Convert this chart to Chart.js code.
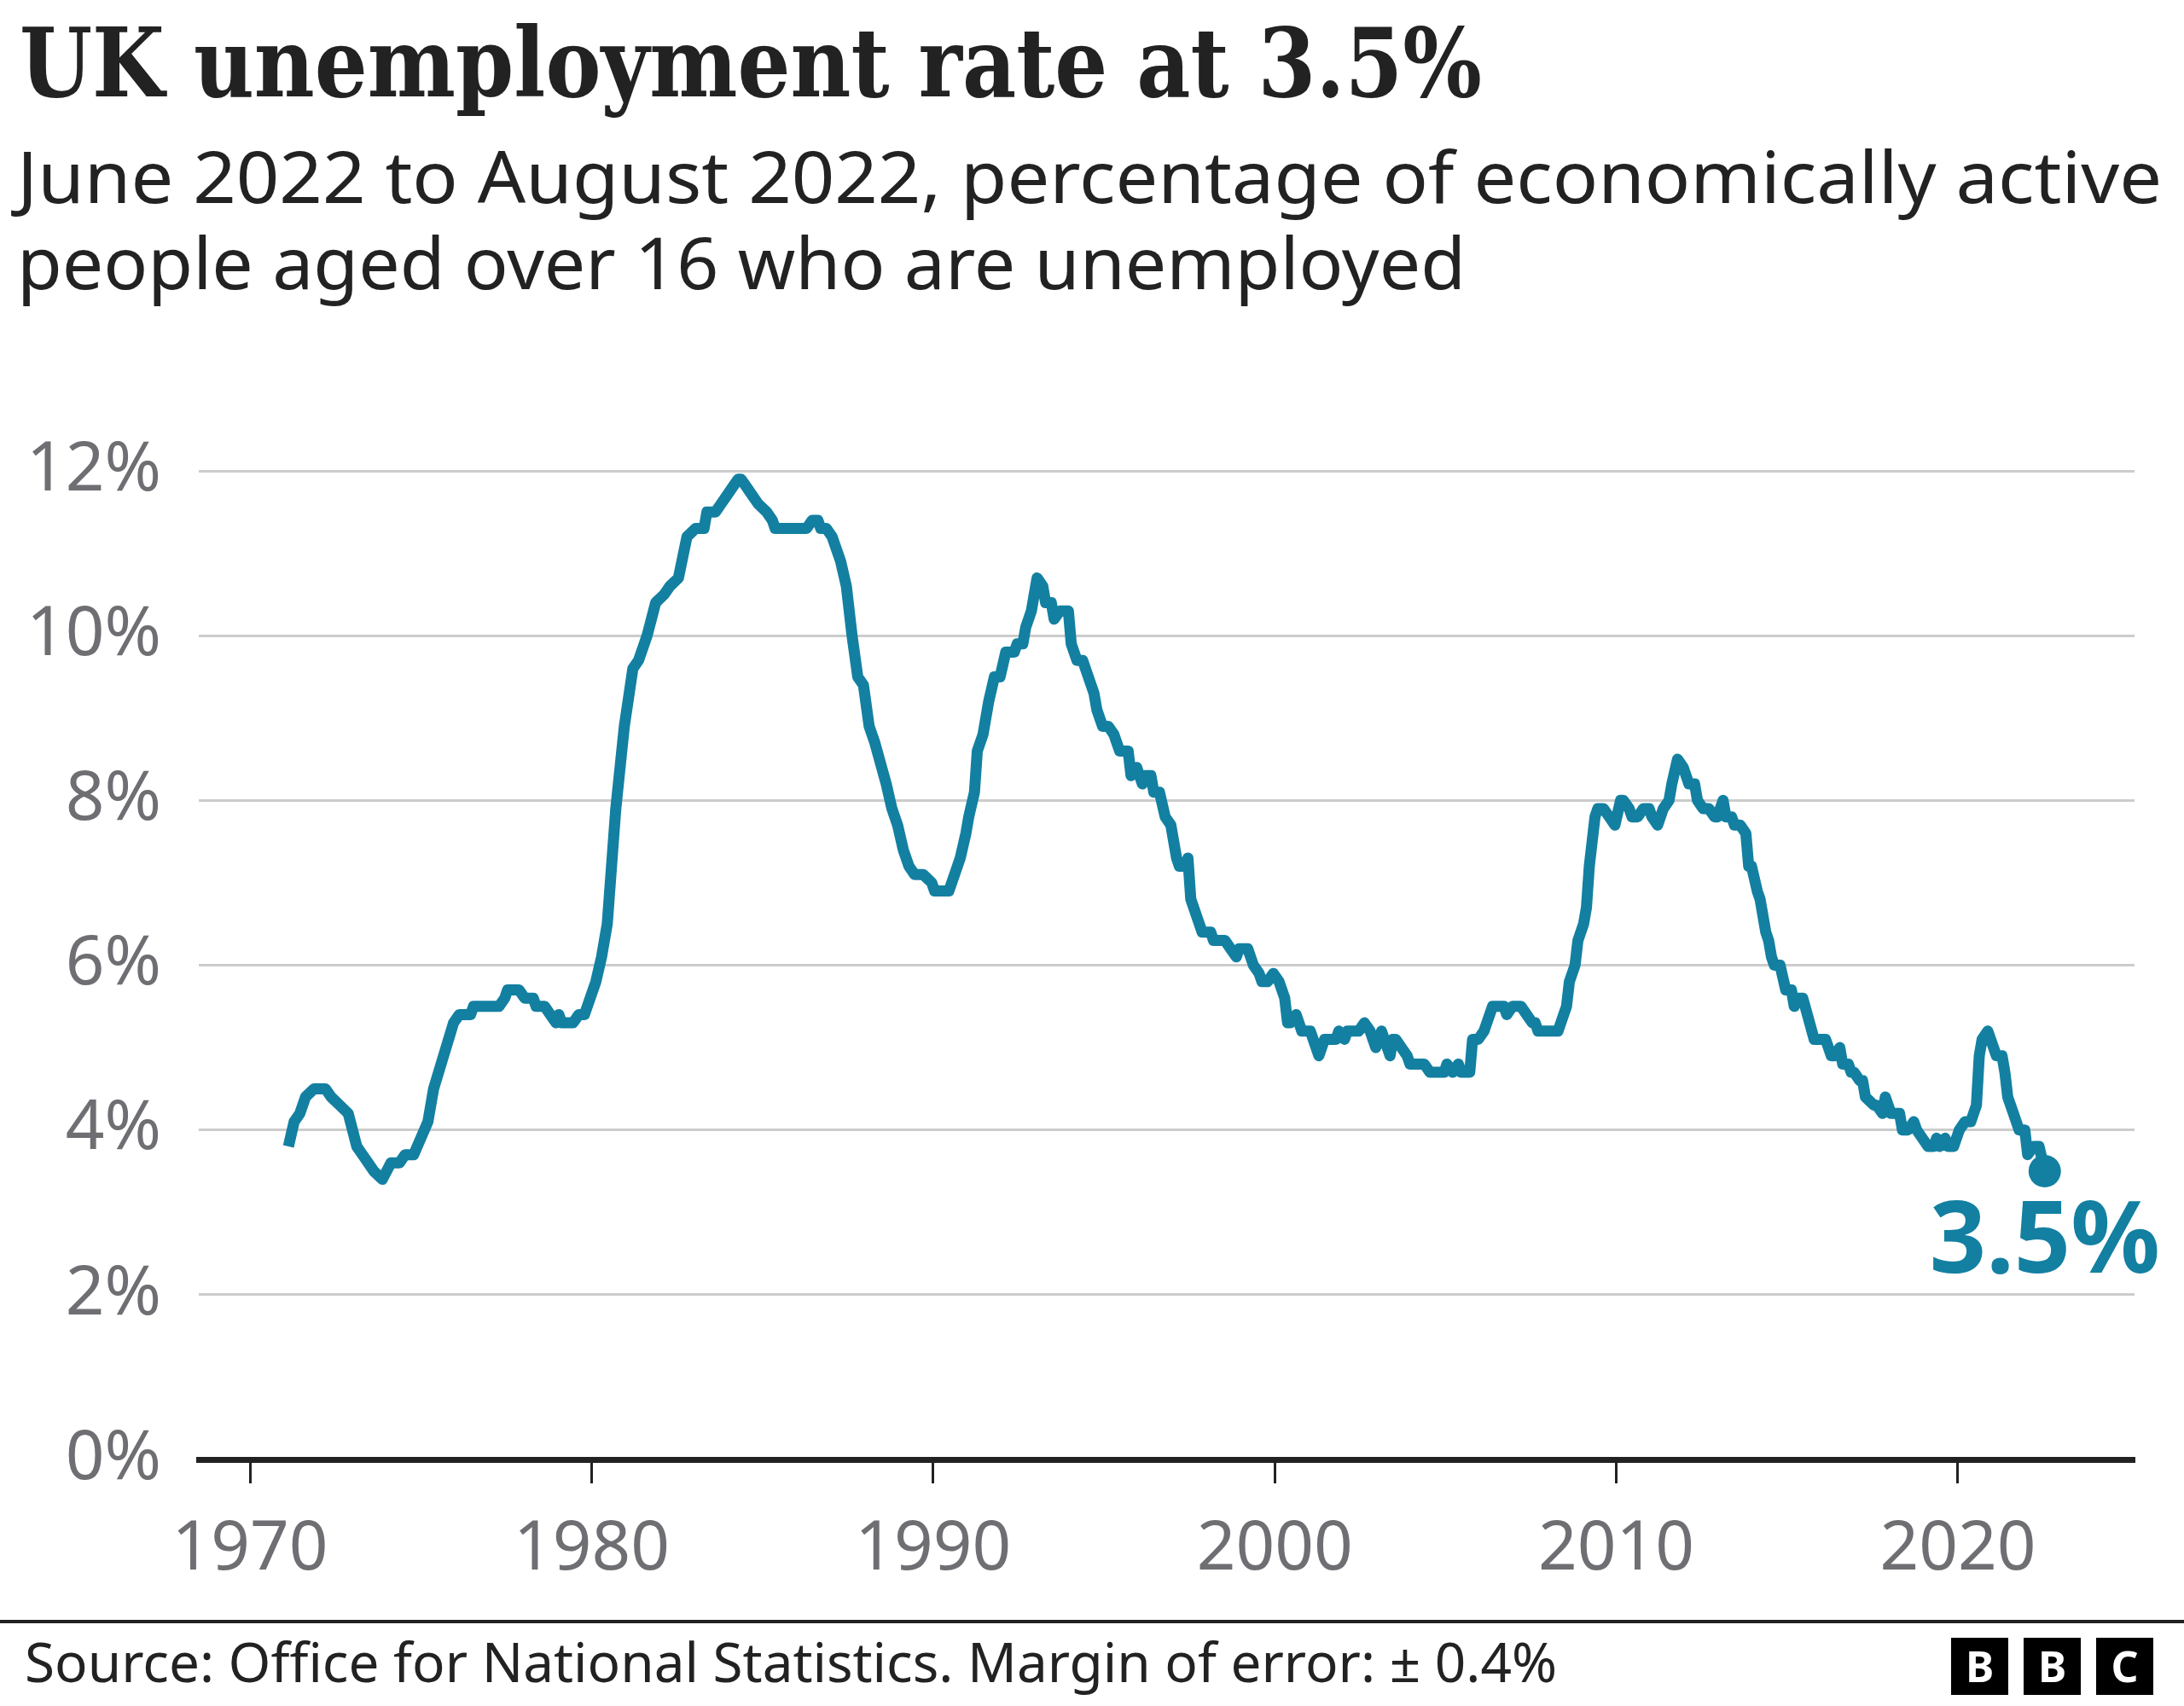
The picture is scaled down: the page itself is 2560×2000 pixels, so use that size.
<!DOCTYPE html>
<html>
<head>
<meta charset="utf-8">
<script src="https://cdn.jsdelivr.net/npm/chart.js@4/dist/chart.umd.min.js"></script>
<style>
  html, body { margin: 0; padding: 0; background: #ffffff; }
  body { width: 2560px; height: 2000px; position: relative; overflow: hidden; font-family: "Noto Sans", sans-serif; }
  .txt { position: absolute; white-space: nowrap; line-height: 1; transform-origin: left top; }
  #title { left: 23px; top: 18px; font-family: "DejaVu Serif", serif; font-weight: bold; font-size: 112px; color: #222222; }
  #sub1 { left: 20px; top: 164px; font-size: 84px; color: #222222; }
  #sub2 { left: 20px; top: 265px; font-size: 84px; color: #222222; }
  #chartWrap { position: absolute; left: 0; top: 460px; width: 2560px; height: 1420px; }
  #rule { position: absolute; left: 0; top: 1899px; width: 2560px; height: 4px; background: #222222; }
  #source { left: 29px; top: 1916px; font-size: 64px; color: #222222; }
  .blk { position: absolute; top: 1920px; width: 67px; height: 67px; background: #000; color: #fff;
         font-family: "Noto Sans", sans-serif; font-weight: bold; font-size: 50px; line-height: 67px; text-align: center; }
</style>
</head>
<body>
<div id="title" class="txt">UK unemployment rate at 3.5%</div>
<div id="sub1" class="txt">June 2022 to August 2022, percentage of economically active</div>
<div id="sub2" class="txt">people aged over 16 who are unemployed</div>
<div id="chartWrap"><canvas id="c" width="2560" height="1420"></canvas></div>
<div id="rule"></div>
<div id="source" class="txt">Source: Office for National Statistics. Margin of error: ± 0.4%</div>
<div class="blk" style="left:2287px">B</div>
<div class="blk" style="left:2372px">B</div>
<div class="blk" style="left:2457px">C</div>
<script>
// Mid-month of each rolling three-month period (YYYY-MM)
const dates = [
 "1971-02","1971-04","1971-06","1971-08","1971-11","1972-03","1972-05","1972-08","1972-11",
 "1973-02","1973-04","1973-06","1973-08","1973-11","1974-02","1974-05","1974-07","1974-10",
 "1975-03","1975-05","1975-12","1976-02","1976-06","1976-07","1977-04","1977-06","1977-07","1977-11",
 "1978-01","1978-04","1978-05","1978-08","1978-10","1978-12","1979-01","1979-02","1979-06","1979-08","1979-10",
 "1980-02","1980-04","1980-06","1980-09","1980-12","1981-03","1981-05","1981-08","1981-11",
 "1982-02","1982-04","1982-07","1982-10","1983-01","1983-04","1983-05","1983-08","1983-10","1983-12",
 "1984-02","1984-04","1984-05","1984-07","1984-09","1984-11","1985-02","1985-04","1985-05",
 "1986-04","1986-06","1986-08","1986-09","1986-11","1987-01","1987-04","1987-06","1987-08","1987-10","1987-12",
 "1988-02","1988-04","1988-08","1988-10","1988-12","1989-02","1989-04","1989-06","1989-09","1989-12",
 "1990-01","1990-06","1990-08","1990-10","1990-12","1991-01","1991-03","1991-04","1991-06","1991-08","1991-10","1991-12",
 "1992-02","1992-05","1992-06","1992-08","1992-09","1992-11","1992-12","1993-01","1993-03","1993-04","1993-06","1993-07","1993-09","1993-12",
 "1994-01","1994-03","1994-05","1994-09","1994-10","1994-12","1995-02","1995-04","1995-06","1995-09","1995-10","1995-12",
 "1996-02","1996-03","1996-05","1996-06","1996-08","1996-10","1996-12","1997-02","1997-03","1997-05","1997-06","1997-07","1997-11",
 "1998-02","1998-03","1998-07","1998-09","1998-11","1998-12","1999-03","1999-05","1999-07","1999-08","1999-10","1999-12",
 "2000-02","2000-04","2000-05","2000-06","2000-08","2000-10","2001-01","2001-04","2001-06","2001-10","2001-11",
 "2002-01","2002-02","2002-06","2002-08","2002-10","2002-12","2003-02","2003-05","2003-06","2003-07","2003-09","2003-11","2003-12",
 "2004-05","2004-07","2004-12","2005-01","2005-03","2005-05","2005-06","2005-09","2005-10","2005-12",
 "2006-02","2006-03","2006-05","2006-09","2006-10","2006-12","2007-03","2007-05","2007-07","2007-08","2007-09",
 "2008-04","2008-06","2008-07","2008-08","2008-10","2008-11","2009-01","2009-02","2009-03","2009-05","2009-06","2009-08","2009-10","2009-12",
 "2010-02","2010-03","2010-05","2010-06","2010-08","2010-10","2010-12","2011-01","2011-03","2011-05","2011-07","2011-08","2011-10","2011-12",
 "2012-02","2012-04","2012-05","2012-07","2012-09","2012-11","2012-12","2013-02","2013-03","2013-05","2013-06","2013-08","2013-10","2013-11","2013-12",
 "2014-02","2014-03","2014-05","2014-06","2014-07","2014-08","2014-10","2014-12","2015-02","2015-03","2015-04","2015-06","2015-10",
 "2016-02","2016-04","2016-05","2016-07","2016-08","2016-10","2016-11","2016-12","2017-02","2017-03","2017-04","2017-07","2017-08","2017-10","2017-11",
 "2018-01","2018-04","2018-05","2018-07","2018-09","2018-10","2018-12","2019-02","2019-04","2019-05","2019-06","2019-08","2019-09","2019-11",
 "2020-01","2020-03","2020-05","2020-07","2020-08","2020-09","2020-11","2020-12","2021-02","2021-04","2021-05","2021-06","2021-07","2021-10","2021-12",
 "2022-01","2022-03","2022-05","2022-07"
];
const rates = [
 3.8,4.1,4.2,4.4,4.5,4.5,4.4,4.3,4.2,
 3.8,3.7,3.6,3.5,3.4,3.6,3.6,3.7,3.7,
 4.1,4.5,5.3,5.4,5.4,5.5,5.5,5.6,5.7,5.7,
 5.6,5.6,5.5,5.5,5.4,5.3,5.4,5.3,5.3,5.4,5.4,
 5.8,6.1,6.5,7.9,8.9,9.6,9.7,10.0,10.4,
 10.5,10.6,10.7,11.2,11.3,11.3,11.5,11.5,11.6,11.7,
 11.8,11.9,11.9,11.8,11.7,11.6,11.5,11.4,11.3,
 11.3,11.4,11.4,11.3,11.3,11.2,10.9,10.6,10.0,9.5,9.4,
 8.9,8.7,8.2,7.9,7.7,7.4,7.2,7.1,7.1,7.0,
 6.9,6.9,7.1,7.3,7.6,7.8,8.1,8.6,8.8,9.2,9.5,9.5,
 9.8,9.8,9.9,9.9,10.1,10.3,10.5,10.7,10.6,10.4,10.4,10.2,10.3,10.3,
 9.9,9.7,9.7,9.3,9.1,8.9,8.9,8.8,8.6,8.6,8.3,8.4,
 8.2,8.3,8.3,8.1,8.1,7.8,7.7,7.3,7.2,7.2,7.3,6.8,6.4,
 6.4,6.3,6.3,6.2,6.1,6.2,6.2,6.0,5.9,5.8,5.8,5.9,
 5.8,5.6,5.3,5.3,5.4,5.2,5.2,4.9,5.1,5.1,5.2,
 5.1,5.2,5.2,5.3,5.2,5.0,5.2,4.9,5.1,5.1,5.0,4.9,4.8,
 4.8,4.7,4.7,4.8,4.7,4.8,4.7,4.7,5.1,5.1,
 5.2,5.3,5.5,5.5,5.4,5.5,5.5,5.4,5.3,5.3,5.2,
 5.2,5.4,5.5,5.8,6.0,6.3,6.5,6.7,7.2,7.8,7.9,7.9,7.8,7.7,
 8.0,8.0,7.9,7.8,7.8,7.9,7.9,7.8,7.7,7.9,8.0,8.2,8.5,8.4,
 8.2,8.2,8.0,7.9,7.9,7.8,7.8,8.0,7.8,7.8,7.7,7.7,7.6,7.2,7.2,
 6.9,6.8,6.4,6.3,6.1,6.0,6.0,5.7,5.7,5.5,5.6,5.6,5.1,
 5.1,4.9,4.9,5.0,4.8,4.8,4.7,4.7,4.6,4.6,4.4,4.3,4.3,4.2,4.4,
 4.2,4.2,4.0,4.0,4.1,4.0,3.9,3.8,3.8,3.9,3.8,3.9,3.8,3.8,
 4.0,4.1,4.1,4.3,4.9,5.1,5.2,5.1,4.9,4.9,4.7,4.4,4.3,4.0,4.0,
 3.7,3.8,3.8,3.5
];
const xTickYears = [1970, 1980, 1990, 2000, 2010, 2020];
const yTickValues = [0, 2, 4, 6, 8, 10, 12];

const LINE_COLOR = "#1380A1";
const LABEL_COLOR = "#6e6e73";

function toDecimalYear(s) {
  const parts = s.split("-").map(Number);
  return parts[0] + (parts[1] - 0.5) / 12;
}
const points = dates.map((d, i) => ({ x: toDecimalYear(d), y: rates[i] }));
const lastIndex = points.length - 1;
const latestLabel = rates[lastIndex].toFixed(1) + "%";

const latestPlugin = {
  id: "latestLabel",
  afterDatasetsDraw(chart) {
    const meta = chart.getDatasetMeta(0);
    const p = meta.data[lastIndex];
    const c = chart.ctx;
    c.save();
    c.font = 'bold 116px "Noto Sans"';
    c.fillStyle = LINE_COLOR;
    c.textAlign = "right";
    c.textBaseline = "alphabetic";
    c.fillText(latestLabel, p.x + 135, p.y + 119);
    c.restore();
  }
};

function fitWidth(id, target) {
  const el = document.getElementById(id);
  const w = el.getBoundingClientRect().width;
  el.style.transform = "scaleX(" + (target / w) + ")";
}

function draw() {
  fitWidth("title", 1714);
  fitWidth("sub1", 2514);
  fitWidth("sub2", 1698);
  fitWidth("source", 1796);

  new Chart(document.getElementById("c"), {
    type: "line",
    data: {
      datasets: [{
        data: points,
        borderColor: LINE_COLOR,
        backgroundColor: LINE_COLOR,
        borderWidth: 13,
        borderJoinStyle: "round",
        borderCapStyle: "butt",
        tension: 0,
        pointRadius: ctx => (ctx.dataIndex === lastIndex ? 19 : 0),
        pointHoverRadius: ctx => (ctx.dataIndex === lastIndex ? 19 : 0),
        pointBackgroundColor: LINE_COLOR,
        pointBorderWidth: 0,
        clip: false
      }]
    },
    options: {
      responsive: false,
      animation: false,
      devicePixelRatio: 1,
      events: [],
      layout: { padding: { top: 82, right: 58, left: 0, bottom: 0 } },
      plugins: { legend: { display: false }, tooltip: { enabled: false } },
      scales: {
        x: {
          type: "linear",
          min: 1968.5,
          max: 2025.17,
          afterBuildTicks: axis => { axis.ticks = xTickYears.map(v => ({ value: v })); },
          afterFit: axis => { axis.height = 169; },
          grid: { drawOnChartArea: false, drawTicks: true, tickLength: 28, tickWidth: 3, tickColor: "#222222", color: "#222222" },
          border: { display: true, color: "#222222", width: 7 },
          ticks: {
            autoSkip: false, maxRotation: 0, padding: 30,
            color: LABEL_COLOR,
            font: { family: "Noto Sans", size: 80 },
            callback: v => String(v)
          }
        },
        y: {
          min: 0,
          max: 12,
          afterBuildTicks: axis => { axis.ticks = yTickValues.map(v => ({ value: v })); },
          afterFit: axis => { axis.width = 233; },
          grid: { color: "#cccccc", lineWidth: 3, drawTicks: false },
          border: { display: false },
          ticks: {
            padding: 44,
            color: LABEL_COLOR,
            font: { family: "Noto Sans", size: 80 },
            callback: v => v + "%"
          }
        }
      }
    },
    plugins: [latestPlugin]
  });
}

const fontLoads = [
  document.fonts.load('80px "Noto Sans"'),
  document.fonts.load('bold 116px "Noto Sans"'),
  document.fonts.load('bold 112px "DejaVu Serif"')
];
Promise.all(fontLoads).then(draw, draw);
</script>
</body>
</html>
